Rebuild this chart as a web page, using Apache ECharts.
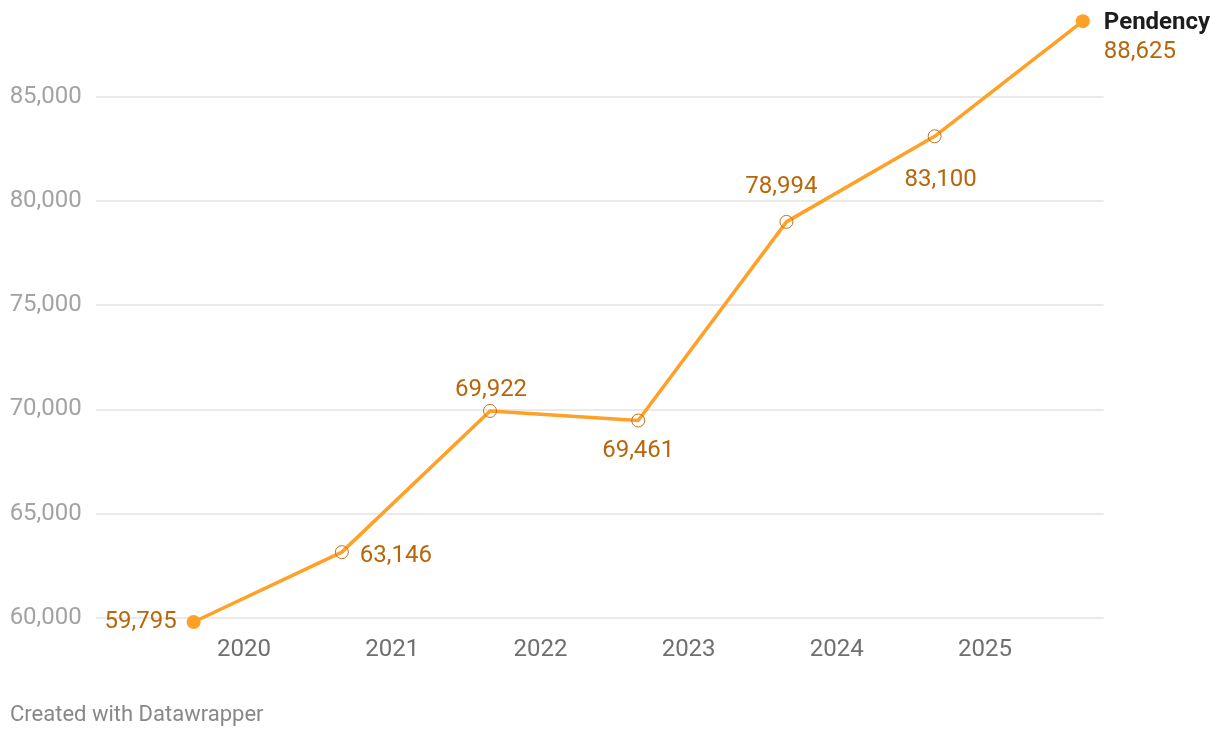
<!DOCTYPE html>
<html>
<head>
<meta charset="utf-8">
<script src="https://cdn.jsdelivr.net/npm/echarts@6/dist/echarts.min.js"></script>
<style>
html,body{margin:0;padding:0;background:#fff;}
#chart{width:1220px;height:738px;}
</style>
</head>
<body>
<div id="chart"></div>
<script>
// Data (x = fractional year of each observation)
const xYears = [2019.66, 2020.66, 2021.66, 2022.66, 2023.66, 2024.66, 2025.66];
const pendency = [59795, 63146, 69922, 69461, 78994, 83100, 88625];
const seriesName = 'Pendency';
const yTicks = [60000, 65000, 70000, 75000, 80000, 85000];
const xTickLabels = ['2020', '2021', '2022', '2023', '2024', '2025'];

const LINE = '#ffa126';
const LABEL = '#b8660a';
const FONT = 'Roboto, "Noto Sans", sans-serif';
const FS = 24;

// label placement per point (style, not data)
const placement = [
  {align:'right', offset:[-17, 0]},
  {align:'left', offset:[18, 4]},
  {align:'center', offset:[1, -21]},
  {align:'center', offset:[0, 30]},
  {align:'center', offset:[-5, -35]},
  {align:'center', offset:[6, 44]},
  {align:'left', offset:[21, 16]}
];

const fmt = v => v.toLocaleString('en-US');
const last = pendency.length - 1;

const data = pendency.map((v, i) => {
  const isEnd = (i === 0 || i === last);
  const item = {
    value: [xYears[i], v],
    symbolSize: isEnd ? 14 : 13,
    itemStyle: isEnd ? {color: LINE, borderWidth: 0}
                     : {color: 'rgba(255,255,255,0)', borderColor: '#c07320', borderWidth: 1},
    label: {
      show: true,
      position: 'inside',
      align: placement[i].align,
      verticalAlign: 'middle',
      offset: placement[i].offset,
      color: LABEL,
      fontFamily: FONT,
      fontSize: FS,
      formatter: fmt(v)
    }
  };
  if (i === last) {
    item.label.formatter = '{a|' + seriesName + '}\n{b|' + fmt(v) + '}';
    item.label.rich = {
      a: {color: '#1d1d1d', fontWeight: 'bold', fontSize: FS, fontFamily: FONT, lineHeight: 29},
      b: {color: LABEL, fontSize: FS, fontFamily: FONT, lineHeight: 29}
    };
  }
  return item;
});

const chart = echarts.init(document.getElementById('chart'), null, {renderer: 'canvas'});
chart.setOption({
  animation: false,
  backgroundColor: '#ffffff',
  grid: {left: 95.8, right: 116.4, top: -7.5, bottom: 120.3, outerBoundsMode: 'none', containLabel: false},
  xAxis: {
    type: 'value',
    min: 2019, max: 2025.8, interval: 1,
    axisLine: {show: false}, axisTick: {show: false}, splitLine: {show: false},
    axisLabel: {
      color: '#6f6f6f', fontSize: FS, fontFamily: FONT, margin: 20,
      showMinLabel: false,
      formatter: v => {
        const s = String(Math.round(v));
        return (Math.abs(v - Math.round(v)) < 1e-6 && xTickLabels.includes(s)) ? s : '';
      }
    }
  },
  yAxis: {
    type: 'value',
    min: 60000, max: 90000, interval: 5000,
    axisLine: {show: false}, axisTick: {show: false},
    splitLine: {lineStyle: {color: '#e3e3e3', width: 1.5}},
    axisLabel: {
      color: '#a3a3a3', fontSize: FS, fontFamily: FONT, margin: 14,
      padding: [7, 0, 0, 0],
      showMaxLabel: false,
      formatter: v => yTicks.includes(v) ? fmt(v) : ''
    }
  },
  series: [{
    name: seriesName,
    type: 'line',
    clip: false,
    data: data,
    symbol: 'circle',
    showAllSymbol: true,
    lineStyle: {color: LINE, width: 3.5},
    z: 3
  }],
  graphic: [{
    type: 'text', left: 10, top: 704,
    style: {text: 'Created with Datawrapper', fill: '#888888', font: '22px Roboto, "Noto Sans", sans-serif'}
  }]
});
</script>
</body>
</html>
